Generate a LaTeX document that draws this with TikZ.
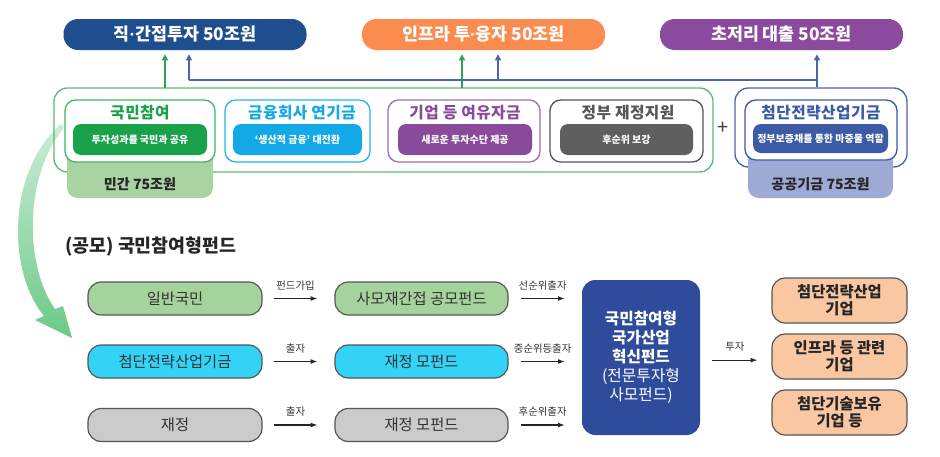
\documentclass[tikz,border=0pt]{standalone}
\usepackage{fontspec}
\setmainfont{Noto Sans CJK KR}
\newfontfamily\krsp{Noto Sans CJK KR}[LetterSpace=3]
\newfontfamily\lat{Liberation Sans}
\usetikzlibrary{arrows.meta}
\newcommand{\pxl}{0.75pt}
\definecolor{pblue}{HTML}{1F4E8F}
\definecolor{porange}{HTML}{F98C4E}
\definecolor{ppurple}{HTML}{8B4A9E}
\definecolor{gframe}{HTML}{5DBB6E}
\definecolor{garrow}{HTML}{2DA44E}
\definecolor{bline}{HTML}{4A66A8}
\definecolor{kgreen}{HTML}{1AA24A}
\definecolor{kgreenb}{HTML}{3DB760}
\definecolor{lgreen}{HTML}{A9D4A2}
\definecolor{kcyan}{HTML}{12A9E6}
\definecolor{kcyanb}{HTML}{27B5E8}
\definecolor{kpurp}{HTML}{8A4A9C}
\definecolor{kpurpb}{HTML}{A06CB4}
\definecolor{kgray}{HTML}{555555}
\definecolor{kgraybar}{HTML}{5F5F5F}
\definecolor{kblue}{HTML}{3C5BA5}
\definecolor{lav}{HTML}{9FA9D6}
\definecolor{fgreen}{HTML}{A4D49C}
\definecolor{fcyan}{HTML}{33D2F7}
\definecolor{fgray}{HTML}{CBCBCB}
\definecolor{bigblue}{HTML}{2E4C9B}
\definecolor{peach}{HTML}{F9C8A3}
\definecolor{bigarrow}{HTML}{6CC98A}
\tikzset{
  pill/.style={fill=#1, rounded corners=11pt, minimum width=243*\pxl, minimum height=31*\pxl, text=white, font=\bfseries\fontsize{13}{15}\selectfont, inner sep=0pt},
  frame/.style={draw=#1, rounded corners=10pt, line width=1pt, inner sep=0pt},
  card/.style={draw=#1, fill=white, rounded corners=8pt, line width=1pt, minimum height=62*\pxl, inner sep=0pt},
  bar/.style={fill=#1, rounded corners=6pt, minimum height=31*\pxl, text=white, font=\bfseries\fontsize{7.5}{9}\selectfont, inner sep=0pt},
  ctitle/.style={text=#1, font=\krsp\bfseries\fontsize{11.8}{13}\selectfont, inner sep=0pt},
  low/.style={fill=#1, rounded corners=8pt, minimum height=48*\pxl, inner sep=0pt},
  lowtext/.style={font=\bfseries\fontsize{10.6}{12}\selectfont, text=black!85, inner sep=0pt},
  up/.style={-{Triangle[length=4.5pt,width=4.5pt]}, line width=0.9pt, draw=#1},
  fbox/.style={draw=kgray, fill=#1, line width=0.9pt, rounded corners=10pt, minimum width=174*\pxl, minimum height=33*\pxl, font=\fontsize{11.5}{13}\selectfont, text=black!80, inner sep=0pt},
  rbox/.style={draw=kgray, fill=peach, line width=0.9pt, rounded corners=10pt, minimum width=135*\pxl, minimum height=45*\pxl, align=center, font=\bfseries\fontsize{11.5}{12.8}\selectfont, text=black!85, inner sep=0pt},
  arr/.style={-{Latex[length=5pt,width=3.6pt]}, line width=0.8pt, draw=black!85},
  alab/.style={font=\fontsize{7.8}{9}\selectfont, text=black!80, inner sep=0pt}
}
\begin{document}
\begin{tikzpicture}[x=0.75pt,y=-0.75pt]
\useasboundingbox (0,0) rectangle (940,457);
% big curved arrow (tapered band with head)
\coordinate (cs) at (61,124);
\coordinate (ce) at (72,338);
\shade[top color=bigarrow!35, bottom color=bigarrow] (cs) .. controls (8,170) and (6,270) .. (44,316) -- (35,320) -- (ce) -- (63,306) -- (55,309) .. controls (24,265) and (24,175) .. (64,128) -- cycle;
% frames
\node[frame=gframe, minimum width=659*\pxl, minimum height=84*\pxl] (gf) at (383.5,130) {};
\node[frame=bline, minimum width=172*\pxl, minimum height=79*\pxl] (bf) at (821,127.5) {};
% lower boxes
\node[low=lgreen, minimum width=146*\pxl] (pvt) at (140,174) {};
\node[lowtext] (pvtt) at (140,184) {민간 75조원};
\node[low=lav, minimum width=145*\pxl] (pub) at (820.5,174) {};
\node[lowtext] (pubt) at (820.5,184) {공공기금 75조원};
% cards
\node[card=kgreenb, minimum width=150*\pxl] (c1) at (140,131) {};
\node[card=kcyanb, minimum width=145*\pxl] (c2) at (297.5,131) {};
\node[card=kpurpb, minimum width=152*\pxl] (c3) at (464,131) {};
\node[card=kgray, minimum width=153*\pxl] (c4) at (626.5,131) {};
\node[card=kblue, minimum width=152*\pxl, minimum height=60*\pxl] (c5) at (821,130) {};
\node[ctitle=kgreen] (t1) at (140,113) {국민참여};
\node[ctitle=kcyan] (t2) at (302,113) {금융회사 연기금};
\node[ctitle=kpurp] (t3) at (465,113) {기업 등 여유자금};
\node[ctitle=kgray] (t4) at (628,113) {정부 재정지원};
\node[ctitle=kblue] (t5) at (821,113) {첨단전략산업기금};
\node[bar=kgreen, minimum width=134*\pxl] (b1) at (140,139.5) {투자성과를 국민과 공유};
\node[bar=kcyan, minimum width=129*\pxl] (b2) at (297.5,139.5) {‘생산적 금융’ 대전환};
\node[bar=kpurp, minimum width=134*\pxl] (b3) at (465,139.5) {새로운 투자수단 제공};
\node[bar=kgraybar, minimum width=133*\pxl] (b4) at (626.5,139.5) {후순위 보강};
\node[bar=kblue, minimum width=135*\pxl, minimum height=29*\pxl] (b5) at (820.5,138.5) {정부보증채를 통한 마중물 역할};
\node[font=\fontsize{15}{15}\selectfont, text=black!75] (plus) at (723,128) {+};
% pills
\node[pill=pblue] (p1) at (185,34.5) {직{\lat\bfseries ·}간접투자 50조원};
\node[pill=porange] (p2) at (483.5,34.5) {인프라 투{\lat\bfseries ·}융자 50조원};
\node[pill=ppurple] (p3) at (781.5,34.5) {초저리 대출 50조원};
% top connectors
\coordinate (g1) at (165,88);
\coordinate (g2) at (462,88);
\draw[up=garrow] (g1) -- ([yshift=-3pt]g1 |- p1.south);
\draw[up=garrow] (g2) -- ([yshift=-3pt]g2 |- p2.south);
\coordinate (bj) at (817,80);
\coordinate (bl) at (189,80);
\coordinate (bm) at (498,80);
\draw[bline, line width=0.9pt] (bf.north -| bj) -- (bj) -- (bl);
\draw[up=bline] (bl) -- ([yshift=-3pt]bl |- p1.south);
\draw[up=bline] (bm) -- ([yshift=-3pt]bm |- p2.south);
\draw[up=bline] (bj) -- ([yshift=-3pt]bj |- p3.south);
% bottom title
\node[anchor=west, font=\bfseries\fontsize{13.8}{16}\selectfont, text=black!85, inner sep=0pt] (title) at (65,247) {(공모) 국민참여형펀드};
% bottom boxes
\node[fbox=fgreen] (l1) at (175,298.5) {일반국민};
\node[fbox=fcyan] (l2) at (175,361.5) {첨단전략산업기금};
\node[fbox=fgray] (l3) at (175,425) {재정};
\node[fbox=fgreen, minimum width=173*\pxl] (m1) at (421.5,298.5) {사모재간접 공모펀드};
\node[fbox=fcyan, minimum width=173*\pxl] (m2) at (421.5,361.5) {재정 모펀드};
\node[fbox=fgray, minimum width=173*\pxl] (m3) at (421.5,425) {재정 모펀드};
\node[fill=bigblue, rounded corners=10pt, minimum width=118*\pxl, minimum height=155*\pxl, text=white, align=center, font=\fontsize{11.8}{14.3}\selectfont, inner sep=0pt] (big) at (641,357.5) {\textbf{국민참여형}\\\textbf{국가산업}\\\textbf{혁신펀드}\\(전문투자형\\사모펀드)};
\node[rbox] (r1) at (839.5,300.5) {첨단전략산업\\기업};
\node[rbox] (r2) at (839.5,356.5) {인프라 등 관련\\기업};
\node[rbox] (r3) at (839.5,412.5) {첨단기술보유\\기업 등};
% bottom arrows
\draw[arr] ([xshift=8.25pt]l1.east) -- node[alab, above=6pt] (a1) {펀드가입} ([xshift=-12.75pt]m1.west);
\draw[arr] ([xshift=8.25pt]l2.east) -- node[alab, above=6pt] (a2) {출자} ([xshift=-12.75pt]m2.west);
\draw[arr] ([xshift=8.25pt]l3.east) -- node[alab, above=6pt] (a3) {출자} ([xshift=-12.75pt]m3.west);
\draw[arr] ([xshift=9pt]m1.east) -- node[alab, above=6pt] (a4) {선순위출자} ([xshift=-12.75pt]m1.east -| big.west);
\draw[arr] ([xshift=9pt]m2.east) -- node[alab, above=6pt] (a5) {중순위등출자} ([xshift=-12.75pt]m2.east -| big.west);
\draw[arr] ([xshift=9pt]m3.east) -- node[alab, above=6pt] (a6) {후순위출자} ([xshift=-12.75pt]m3.east -| big.west);
\coordinate (bo) at ([yshift=-2pt]big.east);
\draw[arr] ([xshift=9pt]bo) -- node[alab, above=6pt] (a7) {투자} ([xshift=-10.5pt]bo -| r2.west);
\end{tikzpicture}
\end{document}
